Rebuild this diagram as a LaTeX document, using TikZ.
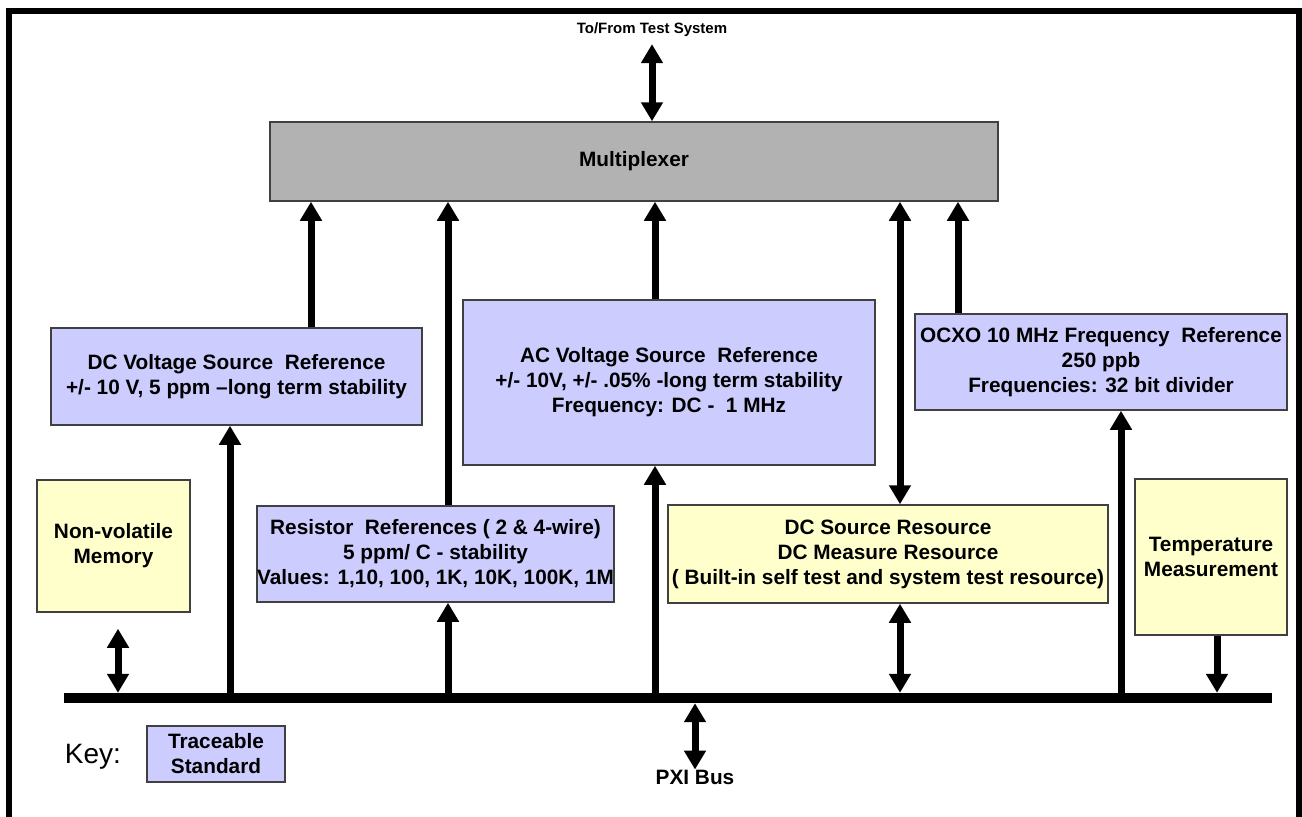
\documentclass[tikz,border=0pt]{standalone}
\usepackage{fontspec}
\setmainfont{Liberation Sans}
\usetikzlibrary{arrows.meta}
\definecolor{traceblue}{HTML}{CCCCFF}
\definecolor{resyellow}{HTML}{FFFFCC}
\definecolor{muxgray}{HTML}{B2B2B2}
\begin{document}
\begin{tikzpicture}[x=1pt, y=-1pt,
        basic/.style = {font=\fontsize{20.8}{25}\selectfont\bfseries, align=center, inner sep=0pt},
        box/.style = {basic, draw=black!75, line width=1.5pt},
        ref/.style = {box, fill=traceblue},
        resource/.style = {box, fill=resyellow},
        link/.style = {line width=7pt, -{Triangle[width=21pt,length=19pt]}},
        dlink/.style = {line width=7pt, {Triangle[width=21pt,length=19pt]}-{Triangle[width=21pt,length=19pt]}}]
    \useasboundingbox (0,0) rectangle (1302,817);
    \draw[line width=6pt] (9,817) |- (1299,11) -- (1299,817);
    % top
    \node[basic, font=\fontsize{15}{18}\selectfont\bfseries] (tofrom) at (652,30) {To/From Test System};
    \node[box, fill=muxgray, minimum width=728pt, minimum height=79pt] (mux) at (634,161.5) {Multiplexer};
    % references
    \node[ref, minimum width=371pt, minimum height=97pt] (dcv) at (236.5,376.5)
        {DC Voltage Source~ Reference\\+/- 10 V, 5 ppm --long term stability};
    \node[ref, minimum width=412pt, minimum height=165pt] (acv) at (669,382.5)
        {AC Voltage Source~ Reference\\+/- 10V, +/- .05\% -long term stability\\Frequency: DC -\ \ 1 MHz};
    \node[ref, minimum width=372pt, minimum height=96pt] (ocxo) at (1101,362)
        {OCXO 10 MHz Frequency~ Reference\\250 ppb\\Frequencies: 32 bit divider};
    \node[ref, minimum width=357pt, minimum height=96pt] (res) at (435.5,554)
        {Resistor~ References ( 2 \& 4-wire)\\5 ppm/ C - stability\\Values: 1,10, 100, 1K, 10K, 100K, 1M};
    % resources
    \node[resource, minimum width=440pt, minimum height=98pt] (dcs) at (888,554)
        {DC Source Resource\\DC Measure Resource\\( Built-in self test and system test resource)};
    \node[resource, minimum width=153pt, minimum height=132pt] (nvm) at (113.5,546) {Non-volatile\\Memory};
    \node[resource, minimum width=152pt, minimum height=156pt] (temp) at (1211,557) {Temperature\\Measurement};
    % bus
    \node[fill=black, inner sep=0pt, minimum width=1208pt, minimum height=10pt] (bus) at (668,698) {};
    \node[basic] (pxi) at (695,777) {PXI Bus};
    % key
    \node[basic, font=\fontsize{28}{30}\selectfont] (key) at (93,757) {Key:};
    \node[ref, minimum width=138pt, minimum height=56pt] (keybox) at (216,754) {Traceable\\Standard};
    % links
    \draw[dlink, shorten <=7pt] (tofrom.south) -- (tofrom.south |- mux.north);
    \foreach \n/\dx in {dcv/74.5, res/12.5, acv/-14, ocxo/-143}
        \draw[link] ([xshift=\dx pt]\n.north) -- ([xshift=\dx pt]\n.north |- mux.south);
    \foreach \n/\dx in {dcv/-6.5, res/12.5, acv/-14, ocxo/20}
        \draw[link] ([xshift=\dx pt]\n.south |- bus.north) -- ([xshift=\dx pt]\n.south);
    \draw[dlink] ([xshift=12pt]dcs.north) -- ([xshift=12pt]dcs.north |- mux.south);
    \draw[dlink] ([xshift=12pt]dcs.south) -- ([xshift=12pt]dcs.south |- bus.north);
    \draw[dlink, shorten <=16pt] ([xshift=4.5pt]nvm.south) -- ([xshift=4.5pt]nvm.south |- bus.north);
    \draw[link] ([xshift=6pt]temp.south) -- ([xshift=6pt]temp.south |- bus.north);
    \draw[dlink] (bus.south -| pxi.north) -- (pxi.north);
\end{tikzpicture}
\end{document}
